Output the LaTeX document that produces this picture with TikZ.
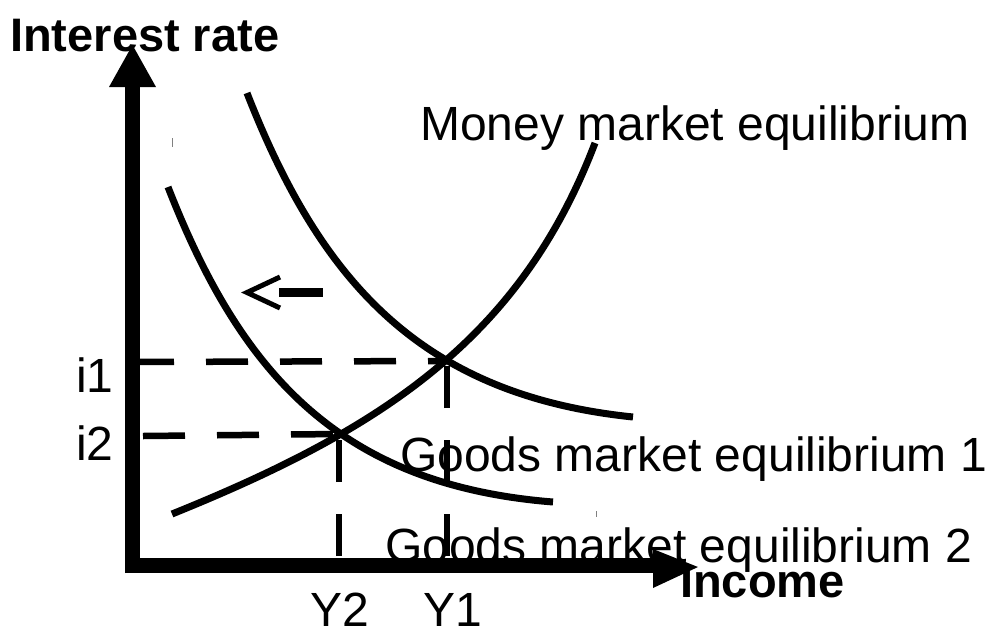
\documentclass[tikz,border=0pt]{standalone}
\usepackage{fontspec}
\setmainfont{Liberation Sans}
\usepackage{tikz}
\usetikzlibrary{calc}

\begin{document}
\begin{tikzpicture}[x=1pt,y=-1pt,
  curva/.style={line width=7pt},
  eixo/.style={line width=15.5pt},
  tracejado/.style={line width=6.5pt,dash pattern=on 42pt off 32pt},
  marca/.style={line width=1pt,gray},
  rotulo/.style={inner sep=0pt,anchor=base west,font=\fontsize{48}{57}\selectfont},
  titulo/.style={inner sep=0pt,anchor=base west,font=\fontsize{47}{56}\selectfont\bfseries}]
\useasboundingbox (0,0) rectangle (989,633);
% Pontos
\coordinate (E1) at (447,361);
\coordinate (E2) at (339,434);
\coordinate (i1eixo) at (132,362);
\coordinate (i2eixo) at (143,436);
\coordinate (Y1eixo) at (447,556);
\coordinate (Y2eixo) at (339,556);
% Eixos
\draw[eixo] (132.5,573) -- (132.5,86);
\fill (109,87) -- (132.5,45) -- (156,87) -- cycle;
\draw[eixo] (125,565.5) -- (654,565.5);
\fill (653,549) -- (698,567) -- (653,588) -- cycle;
% Curvas
\draw[curva] (247,93) .. controls (320,280) and (420,395) .. (633,417);
\draw[curva] (168,187) .. controls (241,374) and (340,485) .. (553,502);
\draw[curva] (172,514) .. controls (380,430) and (520,340) .. (595,143);
% Tracejados
\draw[tracejado] (i1eixo) -- (E1);
\draw[tracejado] (i2eixo) -- (E2);
\draw[tracejado] (Y1eixo) -- (E1);
\draw[tracejado] (Y2eixo) -- (E2);
% Seta
\draw[line width=5pt] (280,277) -- (247,292.5) -- (280,308);
\draw[line width=9pt] (279,292.5) -- (323,292.5);
% Marcas
\draw[marca] (172,138) -- (172,147);
\draw[marca] (596,511) -- (596,517);
% Textos
\node[titulo] (eixoy) at (10,51) {Interest rate};
\node[titulo] (eixox) at (680,597) {Income};
\node[rotulo] (lm) at (420,140) {Money market equilibrium};
\node[rotulo] (is1) at (400,471) {Goods market equilibrium 1};
\node[rotulo] (is2) at (385,562) {Goods market equilibrium 2};
\node[rotulo] (i1) at (76,392) {i1};
\node[rotulo] (i2) at (76,460) {i2};
\node[rotulo] (y2) at (310,626) {Y2};
\node[rotulo] (y1) at (423,626) {Y1};
\end{tikzpicture}
\end{document}
